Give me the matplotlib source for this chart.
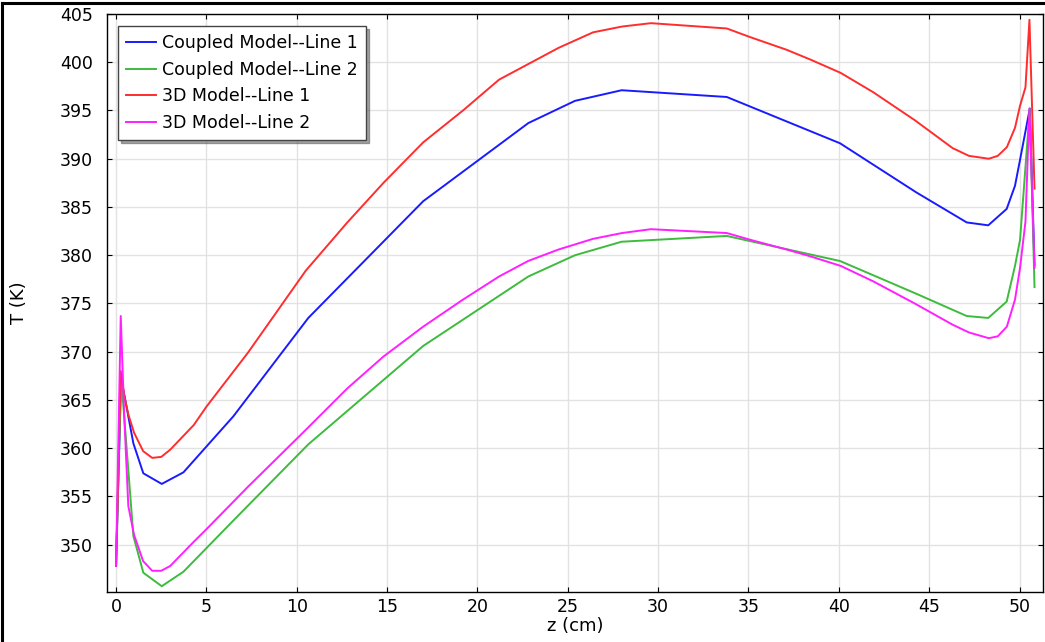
import matplotlib
matplotlib.use("Agg")
import matplotlib.pyplot as plt
from matplotlib.lines import Line2D

# Coupled model mesh positions (cm) and temperatures (K)
z_coupled = [0.0, 0.28, 0.96, 1.51, 2.53, 3.73, 6.49, 10.64, 17.0, 22.82, 25.4,
             27.98, 33.8, 40.07, 44.3, 47.08, 48.27, 49.29, 49.75, 50.03, 50.57, 50.83]
T_coupled_line1 = [347.8, 367.3, 360.5, 357.4, 356.3, 357.5, 363.3, 373.5, 385.6, 393.7, 396.0,
                   397.1, 396.4, 391.6, 386.5, 383.4, 383.1, 384.8, 387.2, 389.9, 395.2, 379.0]
T_coupled_line2 = [347.8, 367.5, 350.9, 347.1, 345.7, 347.2, 352.5, 360.4, 370.6, 377.8, 380.0,
                   381.4, 382.0, 379.4, 376.0, 373.7, 373.5, 375.2, 378.9, 381.6, 395.2, 376.7]

# 3D model mesh positions (cm) and temperatures (K)
z_3d = [0.0, 0.26, 0.45, 0.68, 1.0, 1.5, 2.0, 2.5, 3.0, 4.3, 5.0, 7.3, 10.5, 12.8, 14.8,
        17.0, 19.2, 21.2, 22.8, 24.5, 26.4, 28.0, 29.6, 33.8, 35.1, 37.1, 38.4, 40.1,
        41.9, 44.2, 46.3, 47.2, 48.3, 48.8, 49.3, 49.75, 50.03, 50.33, 50.55, 50.83]
T_3d_line1 = [347.8, 368.0, 365.5, 363.5, 361.6, 359.7, 359.0, 359.1, 359.85, 362.4, 364.3,
              369.9, 378.4, 383.4, 387.5, 391.7, 395.0, 398.2, 399.8, 401.5, 403.1, 403.7,
              404.05, 403.5, 402.6, 401.3, 400.3, 398.9, 396.9, 394.0, 391.1, 390.3, 390.0,
              390.3, 391.2, 393.2, 395.5, 397.4, 404.4, 386.9]
T_3d_line2 = [347.8, 373.7, 363.5, 354.0, 351.0, 348.3, 347.3, 347.3, 347.8, 350.3, 351.6,
              356.0, 361.9, 366.2, 369.5, 372.6, 375.4, 377.8, 379.4, 380.6, 381.7, 382.3,
              382.7, 382.3, 381.6, 380.6, 379.9, 378.9, 377.3, 375.0, 372.8, 372.0, 371.4,
              371.6, 372.6, 375.4, 378.7, 383.5, 395.2, 378.7]

labels = ["Coupled Model--Line 1", "Coupled Model--Line 2",
          "3D Model--Line 1", "3D Model--Line 2"]
colors = ["#1a1aff", "#3dbb3d", "#ff2d2d", "#ff1fff"]

xticks = list(range(0, 51, 5))
yticks = list(range(350, 406, 5))

fig = plt.figure(figsize=(10.45, 6.42), dpi=100)
ax = fig.add_axes([107 / 1045, 1 - 592 / 642, (1043 - 107) / 1045, (592 - 14) / 642])

series = [(z_coupled, T_coupled_line1), (z_coupled, T_coupled_line2),
          (z_3d, T_3d_line1), (z_3d, T_3d_line2)]
for (zz, tt), lab, c in zip(series, labels, colors):
    ax.plot(zz, tt, color=c, lw=1.4, label=lab)

ax.set_xlim(-0.5, 51.3)
ax.set_ylim(345.1, 405.0)
ax.set_xticks(xticks)
ax.set_yticks(yticks)
ax.grid(True, color="#e2e2e2", lw=1.0)
ax.set_axisbelow(True)
ax.tick_params(direction="in", top=True, right=True, length=3.5, width=0.8,
               labelsize=12.5)
ax.tick_params(axis="y", pad=10)
ax.tick_params(axis="x", pad=4)
for s in ax.spines.values():
    s.set_linewidth(1.0)
ax.set_xlabel("z (cm)", fontsize=13, labelpad=1)
ax.set_ylabel("T (K)", fontsize=13, labelpad=23)

leg = ax.legend(loc="upper left", bbox_to_anchor=(0.0118, 0.979), fontsize=12.5,
                frameon=True, fancybox=False, shadow=True, handlelength=1.75,
                handletextpad=0.35, borderpad=0.45, labelspacing=0.5,
                borderaxespad=0.0, edgecolor="#444444", framealpha=1.0)
leg.get_frame().set_linewidth(1.0)

# figure border (top and left visible in the reference)
fig.add_artist(Line2D([0.0015, 1.0], [1 - 3 / 642, 1 - 3 / 642],
                      transform=fig.transFigure, color="black", lw=2.2))
fig.add_artist(Line2D([2 / 1045, 2 / 1045], [0.0, 1 - 3 / 642],
                      transform=fig.transFigure, color="black", lw=2.2))

fig.savefig("out.png", dpi=100)
